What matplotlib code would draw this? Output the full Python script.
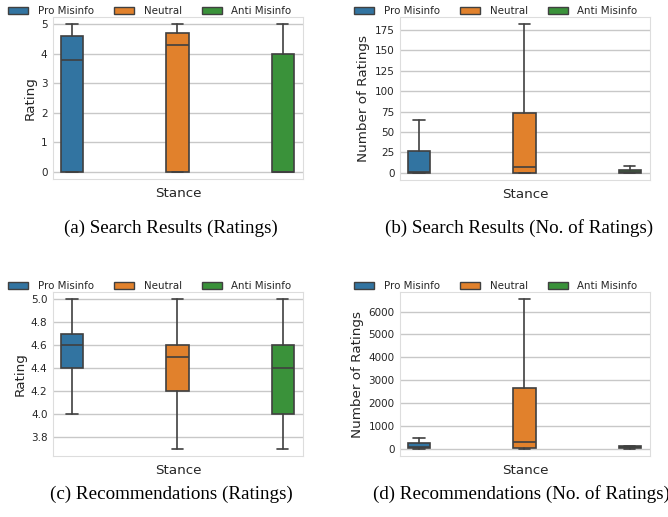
import numpy as np
import matplotlib
matplotlib.use("Agg")
import matplotlib.pyplot as plt
import seaborn as sns
from matplotlib.patches import Patch
from matplotlib.ticker import MultipleLocator, FormatStrFormatter

sns.set_style("whitegrid")
plt.rcParams['font.family'] = ['DejaVu Sans']

stances = ["Pro Misinfo", "Neutral", "Anti Misinfo"]
colors = ["#3274a1", "#e1812c", "#3a923a"]

# five-number summaries per stance: [whisker low, q1, median, q3, whisker high]
search_ratings = [[0, 0, 3.8, 4.6, 5], [0, 0, 4.3, 4.7, 5], [0, 0, 0, 4.0, 5]]
search_counts = [[0, 0, 1, 26, 65], [0, 0, 7, 73, 182], [0, 0, 1, 3, 8]]
rec_ratings = [[4.0, 4.4, 4.6, 4.7, 5.0], [3.7, 4.2, 4.5, 4.6, 5.0], [3.7, 4.0, 4.4, 4.6, 5.0]]
rec_counts = [[0, 30, 60, 225, 480], [0, 30, 290, 2640, 6530], [0, 15, 50, 90, 120]]

captions = ["(a) Search Results (Ratings)", "(b) Search Results (No. of Ratings)",
            "(c) Recommendations (Ratings)", "(d) Recommendations (No. of Ratings)"]
ylabels = ["Rating", "Number of Ratings", "Rating", "Number of Ratings"]
ytick_steps = [1, 25, 0.2, 1000]
panels = [search_ratings, search_counts, rec_ratings, rec_counts]

W, H = 668, 517
fig = plt.figure(figsize=(W / 100, H / 100), dpi=100)

# axes boxes in pixels: left, top, right, bottom
boxes = [(53, 17, 303, 179), (400, 17, 650, 180), (53, 292, 303, 456), (400, 292, 650, 456)]
legend_pos = [(150, 11), (496, 11), (150, 286), (496, 286)]
caption_pos = [(171, 228), (519, 228), (171, 494), (521, 494)]

line_col = "#404040"
for i, (data, (l, t, r, b)) in enumerate(zip(panels, boxes)):
    ax = fig.add_axes([l / W, 1 - b / H, (r - l) / W, (b - t) / H])
    stats = []
    for name, s in zip(stances, data):
        stats.append(dict(label=name, whislo=s[0], q1=s[1], med=s[2], q3=s[3], whishi=s[4], fliers=[]))
    bp = ax.bxp(stats, positions=[0, 1, 2], widths=0.21, patch_artist=True, showfliers=False,
                boxprops=dict(edgecolor=line_col, linewidth=1.2),
                whiskerprops=dict(color=line_col, linewidth=1.2),
                capprops=dict(color=line_col, linewidth=1.2),
                medianprops=dict(color=line_col, linewidth=1.2))
    for patch, c in zip(bp['boxes'], colors):
        patch.set_facecolor(c)
    ax.set_xlim(-0.18, 2.19)
    ax.set_xticks([])
    ax.yaxis.set_major_locator(MultipleLocator(ytick_steps[i]))
    if i == 2:
        ax.yaxis.set_major_formatter(FormatStrFormatter('%.1f'))
    ax.set_xlabel("Stance", fontsize=9.7, color="#262626", labelpad=5.5)
    ax.set_ylabel(ylabels[i], fontsize=9.7, color="#262626", labelpad=3)
    ax.tick_params(axis='y', labelsize=7.5, colors="#262626", length=0, pad=4)
    ax.grid(True, axis='y', color="#c8c8c8", linewidth=1)
    for sp in ax.spines.values():
        sp.set_color("#dddddd")
    handles = [Patch(facecolor=c, edgecolor=line_col, linewidth=1) for c in colors]
    lx, ly = legend_pos[i]
    ax.legend(handles, stances, loc="center", ncol=3, frameon=False,
              bbox_to_anchor=(lx / W, 1 - ly / H),
              bbox_transform=fig.transFigure, fontsize=7.4, handlelength=1.9,
              handleheight=0.65, columnspacing=2.0, handletextpad=0.95,
              borderpad=0, labelcolor="#262626")
    cx, cy = caption_pos[i]
    fig.text(cx / W, 1 - cy / H, captions[i], ha="center", va="center",
             fontsize=13.7, family="Liberation Serif", color="black")

fig.savefig("out.png", dpi=100)
